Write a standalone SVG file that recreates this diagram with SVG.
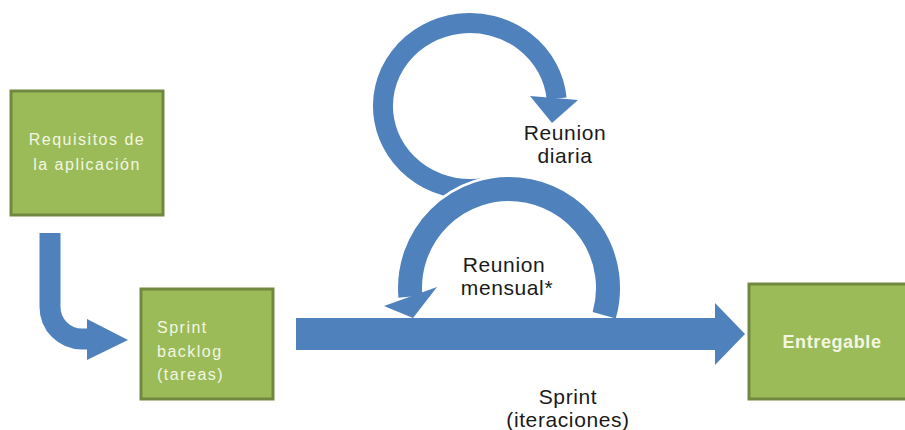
<svg xmlns="http://www.w3.org/2000/svg" width="905" height="430" viewBox="0 0 905 430">
  <style>
    .box { fill: #9bbb59; stroke: #71893f; stroke-width: 3; }
    .btxt { font-family: "Liberation Sans", Arial, sans-serif; font-size: 16px; fill: #f3f6e2; letter-spacing: 1.5px; }
    .bold { font-weight: bold; font-size: 18px; letter-spacing: 0.6px; }
    .lbl { font-family: "Liberation Sans", Arial, sans-serif; font-size: 21px; fill: #1a1a1a; text-anchor: middle; letter-spacing: 0.6px; }
    .shaft { fill: none; stroke: #4f81bd; }
    .head { fill: #4f81bd; }
  </style>
  <rect width="905" height="430" fill="#ffffff"/>

  <g id="connectors">
    <!-- bent arrow from Requisitos to Sprint backlog -->
    <path class="shaft" d="M50,233 V307 A32,32 0 0 0 82,339 H89" stroke-width="21"/>
    <polygon class="head" points="87,319 128,340 87,360"/>

    <!-- top ring: Reunion diaria -->
    <path class="shaft" d="M488.1,187.2 A87,83 0 1 1 556.6,98.5" stroke-width="20"/>
    <polygon class="head" points="530,96 578,100 552,123"/>

    <!-- bottom ring: Reunion mensual -->
    <path d="M604.2,315.3 A99,99 0 1 0 410.4,296.6" fill="none" stroke="#ffffff" stroke-width="29"/>
    <polygon points="384,306 437,287 413,318" fill="#4f81bd" stroke="#ffffff" stroke-width="3"/>
    <path class="shaft" d="M604.2,315.3 A99,99 0 1 0 410.4,296.6" stroke-width="24"/>
    <polygon class="head" points="384,306 437,287 413,318"/>

    <!-- main sprint arrow -->
    <rect x="296" y="318" width="421" height="32" fill="#4f81bd"/>
    <polygon class="head" points="715,303 745,334 715,365"/>
  </g>

  <g id="requisitos">
    <rect class="box" x="11" y="91" width="152" height="124"/>
    <text class="btxt" x="87" y="145" text-anchor="middle">Requisitos de</text>
    <text class="btxt" x="87" y="170" text-anchor="middle">la aplicación</text>
  </g>

  <g id="backlog">
    <rect class="box" x="141" y="289" width="132" height="110"/>
    <text class="btxt" x="157" y="333">Sprint</text>
    <text class="btxt" x="157" y="357">backlog</text>
    <text class="btxt" x="157" y="380">(tareas)</text>
  </g>

  <g id="entregable">
    <rect class="box" x="749" y="284" width="160" height="115"/>
    <text class="btxt bold" x="832" y="348" text-anchor="middle">Entregable</text>
  </g>

  <g id="labels">
    <text class="lbl" x="565" y="140">Reunion</text>
    <text class="lbl" x="565" y="163">diaria</text>
    <text class="lbl" x="504" y="272">Reunion</text>
    <text class="lbl" x="507" y="295">mensual*</text>
    <text class="lbl" x="568" y="404">Sprint</text>
    <text class="lbl" x="568" y="427">(iteraciones)</text>
  </g>
</svg>
